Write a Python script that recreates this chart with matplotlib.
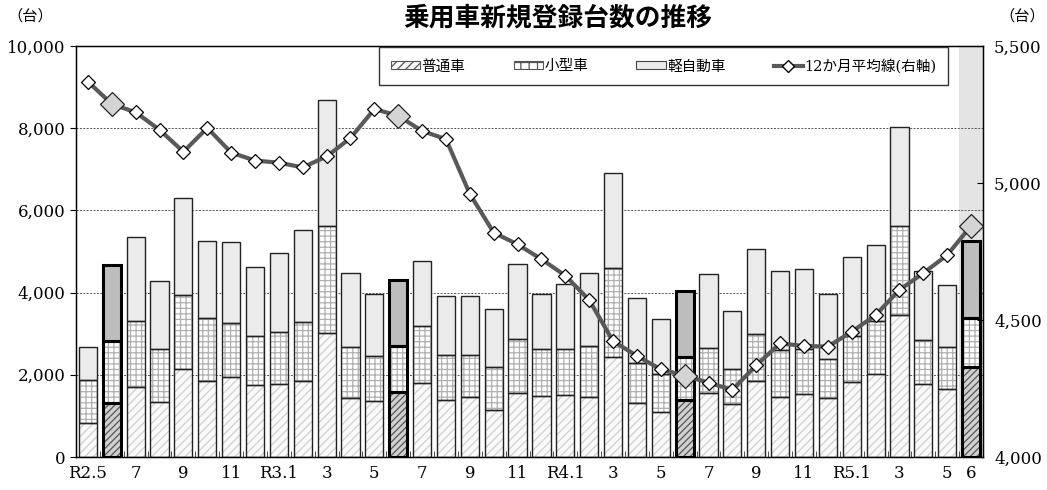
import matplotlib
matplotlib.use("Agg")
import matplotlib.pyplot as plt
from matplotlib.patches import Patch
from matplotlib.lines import Line2D
from matplotlib.ticker import FuncFormatter, FixedLocator
import numpy as np

plt.rcParams["font.family"] = ["DejaVu Serif", "Noto Sans CJK JP"]
plt.rcParams["hatch.linewidth"] = 0.9

# 月 (R2.5 ～ R5.6)
months = ["R2.5", "6", "7", "8", "9", "10", "11", "12",
          "R3.1", "2", "3", "4", "5", "6", "7", "8", "9", "10", "11", "12",
          "R4.1", "2", "3", "4", "5", "6", "7", "8", "9", "10", "11", "12",
          "R5.1", "2", "3", "4", "5", "6"]
shown_labels = ["R2.5", "", "7", "", "9", "", "11", "",
                "R3.1", "", "3", "", "5", "", "7", "", "9", "", "11", "",
                "R4.1", "", "3", "", "5", "", "7", "", "9", "", "11", "",
                "R5.1", "", "3", "", "5", "6"]

# 普通車 / 小型車 / 軽自動車 (台)
futsu = [830, 1320, 1695, 1346, 2141, 1841, 1955, 1745, 1785, 1841, 3010, 1428,
         1370, 1590, 1792, 1387, 1452, 1151, 1565, 1484, 1508, 1452, 2425, 1306,
         1087, 1387, 1565, 1282, 1849, 1460, 1533, 1436, 1817, 2012, 3463, 1768,
         1647, 2182]
kogata = [1040, 1510, 1622, 1282, 1801, 1533, 1313, 1207, 1248, 1435, 2610, 1256,
          1087, 1120, 1395, 1103, 1022, 1031, 1306, 1136, 1112, 1258, 2166, 973,
          925, 1038, 1079, 851, 1144, 1143, 1087, 948, 1127, 1297, 2157, 1079,
          1037, 1192]
kei = [810, 1840, 2043, 1662, 2368, 1891, 1972, 1671, 1937, 2254, 3058, 1801,
       1501, 1590, 1573, 1420, 1451, 1411, 1817, 1338, 1589, 1759, 2311, 1581,
       1354, 1610, 1800, 1427, 2060, 1930, 1947, 1574, 1930, 1841, 2417, 1679,
       1509, 1891]
# 12か月平均線 (右軸)
avg12 = [5370, 5288, 5258, 5194, 5114, 5201, 5111, 5082, 5074, 5057, 5097, 5164,
         5270, 5245, 5190, 5160, 4960, 4819, 4776, 4722, 4662, 4573, 4423, 4369,
         4320, 4297, 4271, 4245, 4335, 4415, 4405, 4403, 4457, 4518, 4610, 4671,
         4737, 4844]

x = np.arange(len(months))
futsu = np.array(futsu)
kogata = np.array(kogata)
kei = np.array(kei)
june = np.array([m == "6" for m in months])
june_idx = x[june]
normal_idx = x[~june]

fig = plt.figure(figsize=(10.47, 4.9), dpi=100)
ax = fig.add_axes([76 / 1047, 1 - 457 / 490, 907 / 1047, 411 / 490])

width = 0.76
# 最新月の背景
ax.axvspan(36.5, 37.5, color="#e4e4e4", zorder=0, lw=0)

# 塗り・ハッチ (線なし)
ax.bar(normal_idx, futsu[normal_idx], width, color="#fafafa", hatch="////",
       edgecolor="#cfcfcf", linewidth=0, zorder=2)
ax.bar(june_idx, futsu[june_idx], width, color="#d0d0d0", hatch="/////",
       edgecolor="#555555", linewidth=0, zorder=2)
ax.bar(x, kogata, width, bottom=futsu, color="white", hatch="+++",
       edgecolor="#b0b0b0", linewidth=0, zorder=2)
kei_face = np.where(june, "#bdbdbd", "#ebebeb")
ax.bar(x, kei, width, bottom=futsu + kogata, color=kei_face, linewidth=0, zorder=2)

# 枠線
for idx, edge, lw in [(normal_idx, "#222222", 1.0), (june_idx, "black", 2.2)]:
    ax.bar(idx, futsu[idx], width, fill=False, edgecolor=edge, linewidth=lw, zorder=3)
    ax.bar(idx, kogata[idx], width, bottom=futsu[idx], fill=False, edgecolor=edge,
           linewidth=lw, zorder=3)
    ax.bar(idx, kei[idx], width, bottom=futsu[idx] + kogata[idx], fill=False,
           edgecolor=edge, linewidth=lw, zorder=3)

ax.set_xlim(-0.5, len(months) - 0.5)
ax.set_ylim(0, 10000)
ax.set_yticks(np.arange(0, 10001, 2000))
ax.yaxis.set_major_formatter(FuncFormatter(lambda v, p: f"{int(v):,}"))
ax.grid(axis="y", linestyle=(0, (2, 1.5)), color="#555555", linewidth=0.7)
ax.set_axisbelow(True)

ax.set_xticks(x)
ax.set_xticklabels(shown_labels)
ax.tick_params(axis="x", which="major", length=0, pad=6, labelsize=12)
ax.xaxis.set_minor_locator(FixedLocator(x[:-1] + 0.5))
ax.tick_params(axis="x", which="minor", direction="in", length=4, color="#333333")
ax.tick_params(axis="y", direction="out", length=4, labelsize=12)
for s in ax.spines.values():
    s.set_color("black")
    s.set_linewidth(1.0)

ax2 = ax.twinx()
ax2.set_ylim(4000, 5500)
ax2.set_yticks([4000, 4500, 5000, 5500])
ax2.yaxis.set_major_formatter(FuncFormatter(lambda v, p: f"{int(v):,}"))
ax2.tick_params(axis="y", direction="in", length=4, labelsize=12, pad=8)
ax2.plot(x, avg12, color="#595959", lw=3, zorder=4, marker="D", markersize=7,
         markerfacecolor="white", markeredgecolor="black", markeredgewidth=0.9)
ax2.plot(june_idx, np.array(avg12)[june], linestyle="none", marker="D",
         markersize=12, markerfacecolor="#d4d4d4", markeredgecolor="#222222",
         markeredgewidth=0.9, zorder=5)

fig.text(558 / 1047, 1 - 18 / 490, "乗用車新規登録台数の推移", ha="center", va="center",
         fontsize=18.5, fontweight="bold", family=["Noto Sans CJK JP"])
fig.text(30 / 1047, 1 - 16 / 490, "（台）", ha="center", va="center", fontsize=11,
         family=["Noto Sans CJK JP"])
fig.text(1022 / 1047, 1 - 16 / 490, "（台）", ha="center", va="center", fontsize=11,
         family=["Noto Sans CJK JP"])

handles = [
    Patch(facecolor="#fafafa", edgecolor="#555555", hatch="////", lw=0.8),
    Patch(facecolor="white", edgecolor="#555555", hatch="++", lw=0.8),
    Patch(facecolor="#ebebeb", edgecolor="#444444", lw=0.8),
    Line2D([0], [0], color="#595959", lw=3, marker="D", markersize=6,
           markerfacecolor="white", markeredgecolor="black"),
]
labels = ["普通車", "小型車", "軽自動車", "12か月平均線(右軸)"]
leg = ax2.legend(handles, labels, ncol=4, loc="upper right",
                 bbox_to_anchor=(948 / 1047, 1 - 47 / 490), bbox_transform=fig.transFigure,
                 fancybox=False, edgecolor="#333333", framealpha=1,
                 handlelength=2.0, handleheight=0.5, handletextpad=0.1,
                 columnspacing=3.3, borderpad=0.8, borderaxespad=0,
                 prop={"family": ["DejaVu Serif", "Noto Sans CJK JP"], "size": 10.5})
leg.get_frame().set_linewidth(1.0)

fig.savefig("out.png", dpi=100)
